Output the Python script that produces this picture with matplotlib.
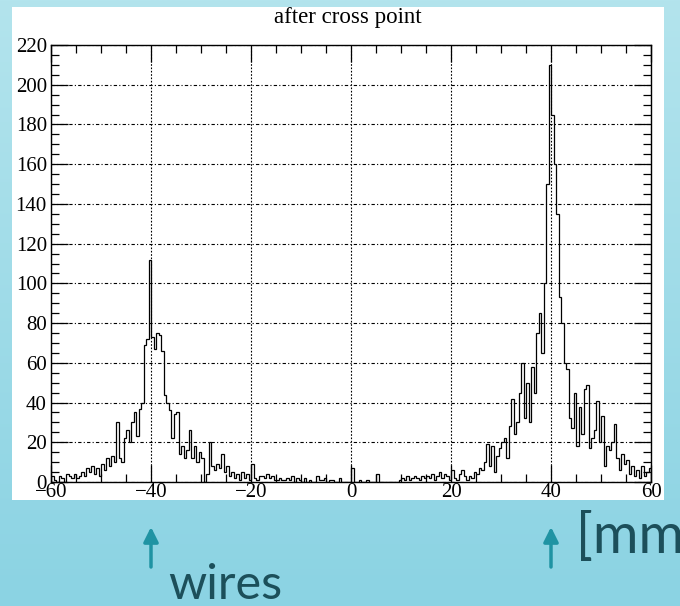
import numpy as np
import matplotlib
matplotlib.use("Agg")
import matplotlib.pyplot as plt
from matplotlib.colors import LinearSegmentedColormap
from matplotlib.patches import Rectangle

# ---------------- data (0.5 mm bins from -60 to 60) ----------------
x_min, x_max = -60, 60
counts_left = [
    3, 1, 0, 3, 2, 0, 4, 3, 2, 4,
    2, 3, 5, 3, 7, 5, 8, 4, 7, 3,
    9, 6, 12, 8, 13, 10, 30, 12, 10, 22,
    26, 20, 30, 35, 23, 37, 40, 69, 72, 112,
    73, 67, 75, 74, 66, 44, 40, 36, 22, 34,
    35, 14, 18, 12, 16, 26, 12, 18, 10, 15,
    12, 0, 4, 20, 8, 6, 9, 7, 14, 5,
    8, 3, 5, 2, 4, 1, 5, 2, 4, 1,
    9, 2, 1, 3, 3, 2, 4, 2, 3, 1,
    1, 2, 1, 1, 2, 1, 3, 0, 2, 1,
    0, 2, 0, 1, 0, 0, 3, 1, 1, 2,
    0, 1, 1, 0, 0, 2, 0, 0, 0, 0,
]
counts_right = [
    7, 0, 0, 1, 0, 0, 1, 0, 0, 0,
    4, 0, 0, 0, 0, 0, 0, 0, 0, 1,
    2, 1, 3, 1, 2, 3, 2, 1, 3, 2,
    3, 2, 4, 1, 3, 5, 2, 4, 3, 1,
    6, 2, 1, 4, 6, 3, 1, 3, 2, 5,
    4, 7, 6, 10, 19, 8, 18, 5, 13, 17,
    20, 22, 12, 28, 42, 24, 30, 45, 60, 32,
    50, 30, 58, 45, 75, 85, 65, 100, 150, 210,
    185, 160, 135, 93, 80, 60, 57, 32, 27, 45,
    18, 38, 24, 47, 49, 17, 22, 26, 41, 20,
    33, 8, 18, 16, 20, 29, 12, 6, 14, 9,
    11, 4, 8, 3, 6, 2, 8, 3, 5, 7,
]
counts = np.array(counts_left + counts_right, dtype=float)
edges = np.linspace(x_min, x_max, len(counts) + 1)

x_ticks = [-60, -40, -20, 0, 20, 40, 60]
y_ticks = list(range(0, 221, 20))
title = "after cross point"
wire_positions = [-40, 40]

# ---------------- figure ----------------
W, H = 680, 606
fig = plt.figure(figsize=(W / 100, H / 100), dpi=100)

# gradient slide background
bg = fig.add_axes([0, 0, 1, 1], zorder=-10)
cmap = LinearSegmentedColormap.from_list("bg", ["#8bd3e3", "#b3e4ed"])
grad = np.linspace(0, 1, 256).reshape(-1, 1)
bg.imshow(grad, aspect="auto", cmap=cmap, extent=[0, 1, 0, 1], origin="lower")
bg.set_xlim(0, 1)
bg.set_ylim(0, 1)
bg.axis("off")

# white canvas panel
bg.add_patch(Rectangle((12 / W, 1 - 500 / H), 652 / W, 493 / H,
                       facecolor="white", edgecolor="none", zorder=1))

# histogram axes
ax = fig.add_axes([51 / W, 1 - 482 / H, 600 / W, 437 / H])
ax.set_facecolor("white")
ax.stairs(counts, edges, color="black", lw=0.9)
ax.set_xlim(x_min, x_max)
ax.set_ylim(0, 220)

serif = "Liberation Serif"
ax.set_xticks(x_ticks)
ax.set_yticks(y_ticks)
ax.set_xticks(np.arange(-60, 61, 5), minor=True)
ax.set_yticks(np.arange(0, 221, 5), minor=True)
ax.tick_params(which="both", direction="in", top=True, right=True, color="black", width=0.9)
ax.tick_params(which="major", length=12, labelsize=15)
ax.tick_params(which="minor", length=6)
ax.tick_params(axis="x", pad=1)
ax.tick_params(axis="y", pad=3)
for lab in ax.get_xticklabels() + ax.get_yticklabels():
    lab.set_fontfamily(serif)

ax.grid(True, which="major", axis="y", color="black", lw=0.8, linestyle=(0, (3, 2, 1, 2)))
ax.grid(True, which="major", axis="x", color="black", lw=0.8, linestyle=(0, (1.5, 1.5)))
ax.set_axisbelow(True)
for s in ax.spines.values():
    s.set_linewidth(1.0)
    s.set_color("black")

fig.text(348 / W, 1 - 17 / H, title, ha="center", va="center",
         fontsize=16.5, family=serif)

# ---------------- annotations ----------------
arrow_color = "#1f93a3"
text_color = "#1c4f5a"
for wx in wire_positions:
    px = ax.transData.transform((wx, 0))[0] / W
    bg.annotate("", xy=(px, 1 - 527 / H), xytext=(px, 1 - 567 / H),
                xycoords="axes fraction", textcoords="axes fraction",
                arrowprops=dict(arrowstyle="-|>", lw=2.5, color=arrow_color,
                                mutation_scale=22, shrinkA=0, shrinkB=0),
                zorder=3)

bg.text(168 / W, 1 - 599 / H, "wires", fontsize=35, family="Lato",
        color=text_color, ha="left", va="baseline", zorder=3)
bg.text(576 / W, 1 - 553 / H, "[mm]", fontsize=40, family="Lato",
        color=text_color, ha="left", va="baseline", zorder=3, clip_on=False)

fig.savefig("out.png", dpi=100)
